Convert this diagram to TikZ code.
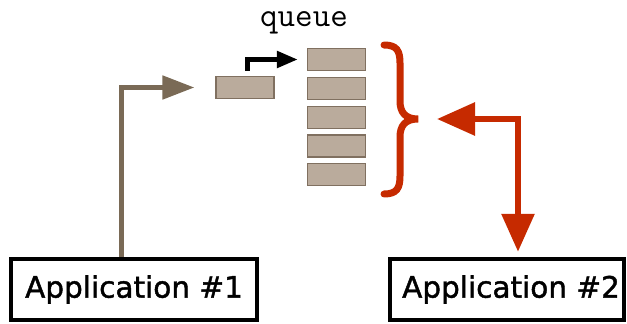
\documentclass[tikz,border=0pt]{standalone}
\usepackage{fontspec}
\newfontfamily\appfont[FakeBold=1.4]{DejaVu Sans}
\usetikzlibrary{positioning,arrows.meta}
\definecolor{slotfill}{RGB}{186,171,156}
\definecolor{slotedge}{RGB}{128,112,96}
\definecolor{feedbrown}{RGB}{122,106,86}
\definecolor{replyred}{RGB}{198,42,0}

\begin{document}
\begin{tikzpicture}[x=1pt,y=-1pt,node distance=28.8pt,line join=miter,
  slot node/.style={rectangle,draw=slotedge,fill=slotfill,line width=1.2pt,minimum width=58pt,minimum height=22pt,inner sep=0pt},
  app node/.style={rectangle,draw,line width=4.5pt,minimum width=246pt,minimum height=61pt,font=\appfont\fontsize{29.5}{31}\selectfont},
  feed arrow/.style={draw=feedbrown,line width=5pt,-{Triangle[length=32pt,width=23pt]}},
  move arrow/.style={draw=black,line width=5pt,-{Triangle[length=21pt,width=16pt]}},
  reply arrow/.style={draw=replyred,line width=6pt,{Triangle[length=38pt,width=32pt]}-{Triangle[length=38pt,width=32pt]}}]

                \useasboundingbox (0,0) rectangle (627,324);

                \node[app node] (app1) at (134,289.5) {Application \#1};
                \node[app node, minimum width=234pt] (app2) at (507,289.5) {\hspace{8pt}Application \#2};

                \node[slot node] (q1) at (336.5,59.5) {};
                \node[slot node] (q2) [below of = q1] {};
                \node[slot node] (q3) [below of = q2] {};
                \node[slot node] (q4) [below of = q3] {};
                \node[slot node] (q5) [below of = q4] {};
                \node[slot node] (new) at (245,87.5) {};

                \node[font=\ttfamily\fontsize{34}{34}\selectfont, anchor=base, inner sep=1pt] (label) at (304,27) {queue};

                % the brace round the queue
                \coordinate (brace tip) at (418,119);
                \draw[replyred,line width=7pt,line cap=round]
                    (384,45) .. controls (397,45) and (400,51) .. (400,63) -- (400,101)
                    .. controls (400,112) and (405,119) .. (brace tip)
                    .. controls (405,119) and (400,126) .. (400,137) -- (400,176)
                    .. controls (400,188) and (397,194) .. (384,194);

                \draw[feed arrow] ([xshift=-13pt]app1.north) |- ([xshift=-21pt]new.west);
                \draw[move arrow, shorten <=5pt] ([xshift=2pt]new.north) |- ([xshift=-9pt]q1.west);
                \draw[reply arrow, shorten >=5pt] ([xshift=19pt]brace tip) -| ([xshift=11pt]app2.north);

                ;
            \end{tikzpicture}
\end{document}
